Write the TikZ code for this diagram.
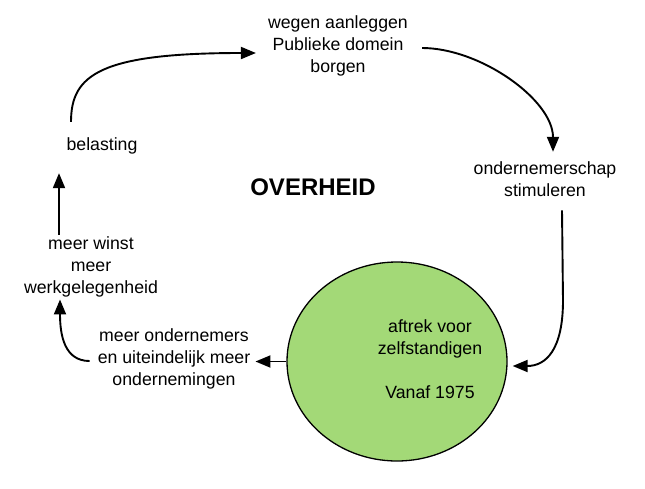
\documentclass[tikz,border=0pt]{standalone}
\usepackage{fontspec}
\setmainfont{Liberation Sans}
\usetikzlibrary{arrows.meta,shapes.geometric}
\definecolor{circgreen}{HTML}{A3D977}
\begin{document}
\begin{tikzpicture}[x=1pt,y=-1pt,
  lbl/.style={inner sep=0pt,align=center,font=\fontsize{17.7}{22}\selectfont},
  arr/.style={line width=1.9pt,-{Triangle[length=15pt,width=12pt]}}]
\useasboundingbox (0,0) rectangle (645,488);
\node[lbl] (weg) at (338,46) {wegen aanleggen\\Publieke domein\\borgen};
\node[lbl] (ond) at (545,179) {ondernemerschap\\stimuleren};
\node[lbl] (bel) at (102,146) {belasting};
\node[inner sep=0pt,font=\fontsize{24}{28}\selectfont\bfseries] (ov) at (313,187) {OVERHEID};
\node[lbl] (mw) at (91,267) {meer winst\\meer\\werkgelegenheid};
\node[lbl] (mo) at (174,359) {meer ondernemers\\en uiteindelijk meer\\ondernemingen};
\node[ellipse,draw,line width=1.3pt,fill=circgreen,minimum width=220pt,minimum height=199pt,inner sep=0pt] (circ) at (397,361.5) {};
\node[lbl] (ct) at (430,359) {aftrek voor\\zelfstandigen\\[22pt]Vanaf 1975};
% connectors
\draw[arr] ([xshift=-31pt,yshift=15.7pt]bel.north) .. controls +(0,-47) and +(-156,0) .. ([xshift=-12pt,yshift=-7pt]weg.west);
\draw[arr] ([xshift=14pt,yshift=-2pt]weg.east) .. controls +(58,0) and +(0,-52) .. ([xshift=8pt,yshift=9.5pt]ond.north);
\draw[arr] ([xshift=17pt,yshift=-13.6pt]ond.south) -- ++(1,90) .. controls +(0,50) and +(33,0) .. ([xshift=5pt,yshift=-4.5pt]circ.east);
\draw[arr] (circ.west) -- ([xshift=5pt]mo.east |- circ.west);
\draw[arr] ([xshift=-8pt,yshift=-2pt]mo.west) .. controls +(-25,0) and +(0,36) .. ([xshift=-31pt,yshift=-2pt]mw.south);
\draw[arr] ([xshift=-32pt,yshift=2pt]mw.north) -- ([xshift=-43pt,yshift=-18.7pt]bel.south);
\end{tikzpicture}
\end{document}
